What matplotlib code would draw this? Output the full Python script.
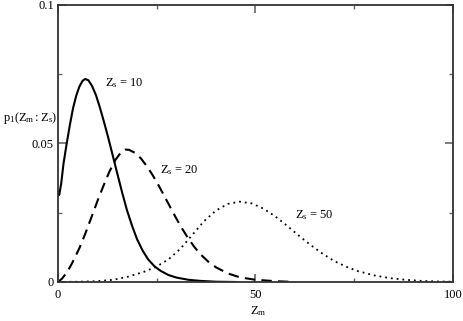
import matplotlib.pyplot as plt
from matplotlib.ticker import MultipleLocator

plt.rcParams['font.family'] = ['Liberation Serif', 'DejaVu Serif']
plt.rcParams['mathtext.fontset'] = 'custom'
plt.rcParams['mathtext.rm'] = 'Liberation Serif'
plt.rcParams['mathtext.it'] = 'Liberation Serif'

# values
x10 = [0, 0.3, 0.8, 1.4, 2.2, 3.0, 3.8, 4.6, 5.4, 6.2, 6.9, 7.7, 8.6, 9.6, 10.6,
       11.6, 12.7, 13.8, 15.0, 16.2, 17.4, 18.7, 20.0, 21.4, 22.8, 24.4, 26.0,
       28.0, 30.0, 33.0, 36.0, 40.0, 45.0]
y10 = [0.0326, 0.0314, 0.0355, 0.0428, 0.0500, 0.0567, 0.0627, 0.0672, 0.0705,
       0.0726, 0.0733, 0.0728, 0.0708, 0.0675, 0.0630, 0.0580, 0.0522, 0.0460,
       0.0392, 0.0325, 0.0262, 0.0205, 0.0155, 0.0114, 0.0082, 0.0057, 0.0040,
       0.0025, 0.0016, 0.0008, 0.0004, 0.0001, 0.0]

x20 = [0, 1.0, 2.0, 3.0, 4.0, 5.5, 7.0, 8.5, 10.0, 11.5, 13.0, 14.5, 16.0,
       17.0, 18.0, 19.5, 21.0, 22.5, 24.0, 25.5, 27.0, 28.5, 30.0, 31.5, 33.0,
       34.5, 36.0, 38.0, 40.0, 43.0, 46.0, 50.0, 55.0, 60.0]
y20 = [0.0, 0.0012, 0.0030, 0.0053, 0.0080, 0.0125, 0.0178, 0.0235, 0.0293,
       0.0347, 0.0398, 0.0440, 0.0469, 0.0478, 0.0477, 0.0466, 0.0446, 0.0418,
       0.0385, 0.0348, 0.0308, 0.0268, 0.0228, 0.0191, 0.0157, 0.0127, 0.0101,
       0.0074, 0.0053, 0.0031, 0.0017, 0.0008, 0.0003, 0.0]

x50 = [0, 5, 10, 14, 18, 22, 25, 28, 31, 34, 37, 40, 43, 46, 49, 52, 55, 58,
       61, 64, 67, 70, 73, 76, 80, 84, 88, 92, 96, 100]
y50 = [0.0, 0.0001, 0.0003, 0.0008, 0.0020, 0.0038, 0.0056, 0.0082, 0.0120,
       0.0170, 0.0220, 0.0258, 0.0282, 0.0290, 0.0284, 0.0265, 0.0237, 0.0203,
       0.0167, 0.0133, 0.0102, 0.0075, 0.0055, 0.0039, 0.0024, 0.0014, 0.0008,
       0.0004, 0.0002, 0.0001]

labels = ['$\\mathrm{Z_s}$ = 10', '$\\mathrm{Z_s}$ = 20', '$\\mathrm{Z_s}$ = 50']

fig = plt.figure(figsize=(4.63, 3.21), dpi=100)
ax = fig.add_axes([0.1253, 0.1215, 0.853, 0.863])

ax.plot(x10, y10, color='black', lw=1.5, ls='-')
ax.plot(x20, y20, color='black', lw=1.5, ls=(0, (5, 3)))
ax.plot(x50, y50, color='black', lw=1.3, ls=(0, (1, 2.2)))

ax.text(12.0, 0.0718, labels[0], fontsize=9, va='center')
ax.text(25.8, 0.0404, labels[1], fontsize=9, va='center')
ax.text(60.0, 0.0242, labels[2], fontsize=9, va='center')

ax.set_xlim(0, 100)
ax.set_ylim(0, 0.1)
ax.xaxis.set_minor_locator(MultipleLocator(25))
ax.yaxis.set_minor_locator(MultipleLocator(0.025))
ax.set_xticks([0, 50, 100])
ax.set_xticklabels(['0', '50', '100'])
ax.set_yticks([0, 0.05, 0.1])
ax.set_yticklabels(['0', '0.05', '0.1'])
ax.tick_params(which='both', direction='in', top=True, right=True,
               color='#666666', labelsize=9)
ax.tick_params(axis='x', pad=5)
ax.tick_params(axis='y', pad=3)
ax.tick_params(which='major', length=6, width=1.2)
ax.tick_params(which='minor', length=3, width=1.0)
for s in ax.spines.values():
    s.set_color('#333333')
    s.set_linewidth(1.3)

fig.text(0.006, 0.632, '$\\mathrm{p_1(Z_m : Z_s)}$', fontsize=9, va='center')
fig.text(0.557, 0.03, '$\\mathrm{Z_m}$', fontsize=9, ha='center', va='center')

fig.savefig('out.png', dpi=100)
